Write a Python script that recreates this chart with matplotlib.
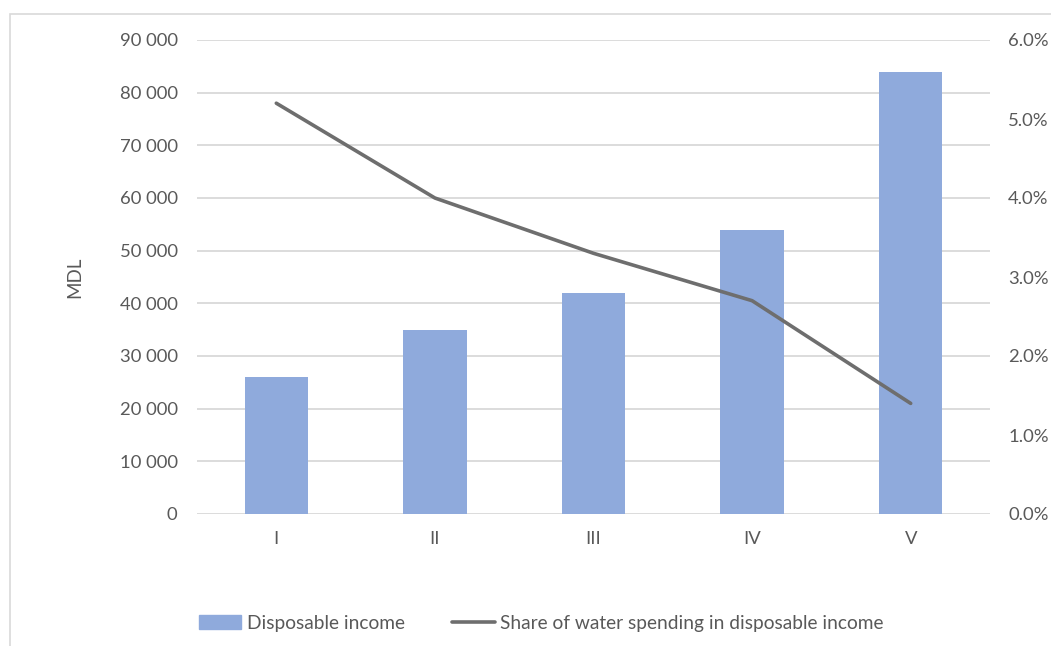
import numpy as np
import matplotlib.pyplot as plt
from matplotlib import ticker
from matplotlib.patches import Rectangle
from matplotlib.lines import Line2D

# quintile groups
quintiles = ["I", "II", "III", "IV", "V"]
# disposable income, MDL
income = [26000, 35000, 42000, 54000, 84000]
# share of water spending in disposable income, %
water_share = [5.2, 4.0, 3.3, 2.7, 1.4]

BAR_COLOR = "#8faadc"
LINE_COLOR = "#6e6e6e"
TEXT_COLOR = "#595959"
GRID_COLOR = "#d9d9d9"

plt.rcParams["font.family"] = ["Lato", "DejaVu Sans"]
plt.rcParams["font.size"] = 13

fig = plt.figure(figsize=[10.51, 6.46], dpi=100)
ax = fig.add_axes([197 / 1051, 132 / 646, 793 / 1051, 474 / 646])

# chart border
fig.patches.append(
    Rectangle((10 / 1051, -0.1), 1.2, 1.1 - 14 / 646, transform=fig.transFigure,
              fill=False, edgecolor="#d9d9d9", linewidth=1.2)
)

x = np.arange(len(quintiles))
ax.bar(x, income, width=0.4, color=BAR_COLOR, zorder=2)
ax.set_xlim(-0.5, len(quintiles) - 0.5)
ax.set_ylim(0, 90000)
ax.set_yticks(np.arange(0, 90001, 10000))
ax.yaxis.set_major_formatter(
    ticker.FuncFormatter(lambda v, _: f"{int(v):,}".replace(",", " "))
)
ax.set_xticks(x)
ax.set_xticklabels(quintiles)
ax.grid(axis="y", color=GRID_COLOR, linewidth=1.3, zorder=0)
for s in ax.spines.values():
    s.set_visible(False)
ax.tick_params(length=0, colors=TEXT_COLOR, labelsize=13.3)
ax.tick_params(axis="y", pad=14)
ax.tick_params(axis="x", pad=12)
ax.set_ylabel("MDL", color=TEXT_COLOR, fontsize=13.5, labelpad=26)

ax2 = ax.twinx()
ax2.plot(x, water_share, color=LINE_COLOR, linewidth=2.6, solid_capstyle="round", zorder=3)
ax2.set_ylim(0, 6)
ax2.set_yticks(np.arange(0, 6.01, 1))
ax2.yaxis.set_major_formatter(ticker.FuncFormatter(lambda v, _: f"{v:.1f}%"))
for s in ax2.spines.values():
    s.set_visible(False)
ax2.tick_params(length=0, colors=TEXT_COLOR, labelsize=13.3, pad=13)

handles = [
    Rectangle((0, 0), 1, 1, color=BAR_COLOR),
    Line2D([0], [0], color=LINE_COLOR, linewidth=2.6, solid_capstyle="round"),
]
fig.legend(
    handles,
    ["Disposable income", "Share of water spending in disposable income"],
    loc="center",
    bbox_to_anchor=(0.515, 23 / 646),
    ncol=2,
    frameon=False,
    fontsize=13.8,
    labelcolor=TEXT_COLOR,
    handlelength=2.2,
    handletextpad=0.3,
    columnspacing=2.5,
)

fig.savefig("out.png", dpi=100, facecolor="white")
